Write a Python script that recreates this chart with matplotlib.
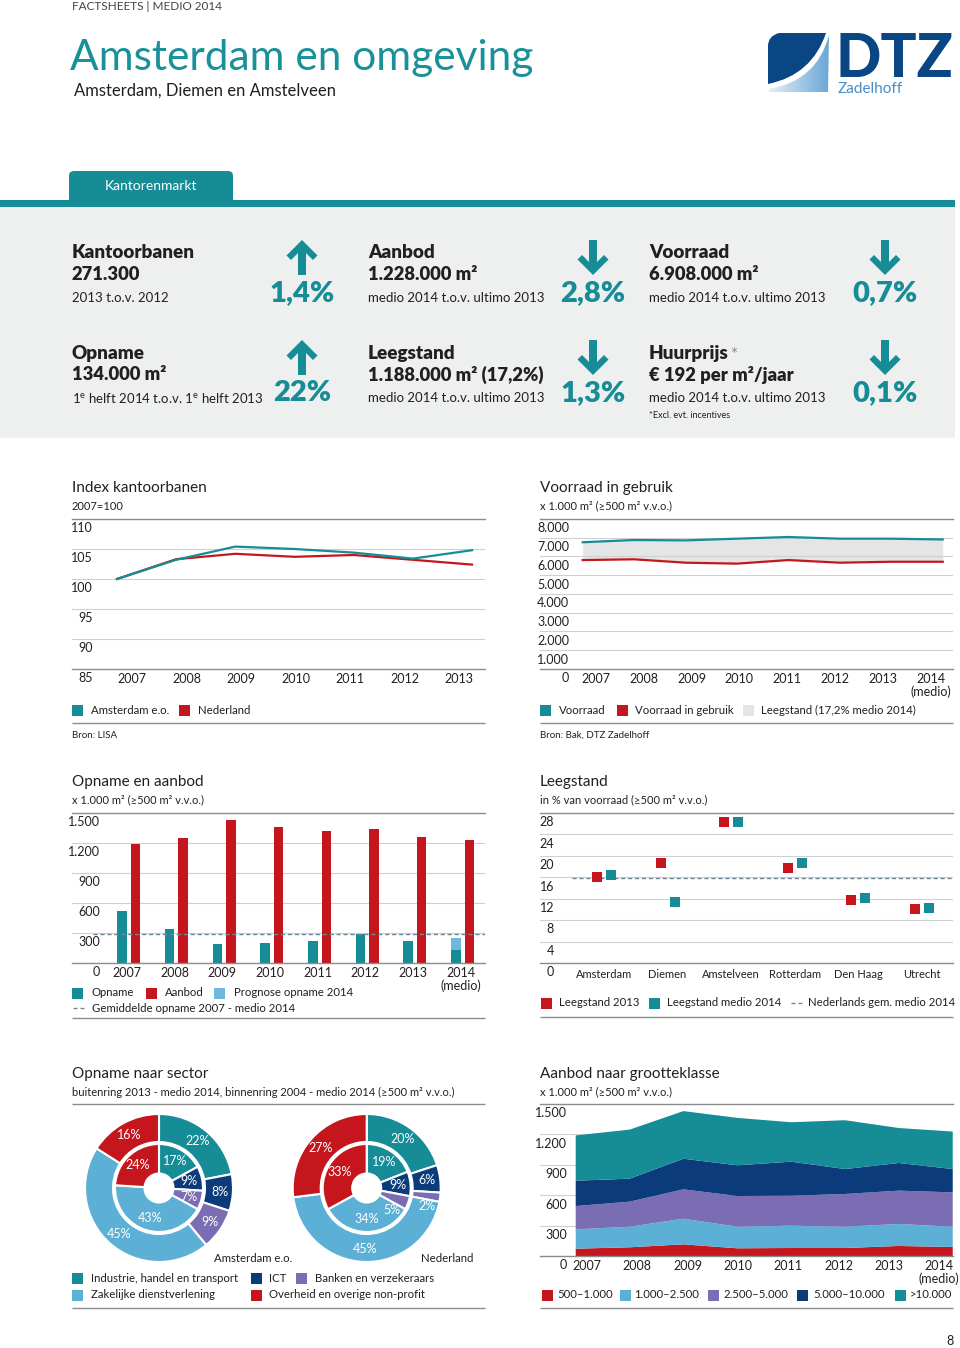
import matplotlib
matplotlib.use('Agg')
import matplotlib.pyplot as plt
import numpy as np
from matplotlib.patches import Rectangle, FancyBboxPatch, Polygon, PathPatch
from matplotlib.path import Path

plt.rcParams['font.family'] = ['Lato', 'DejaVu Sans']
plt.rcParams['mathtext.fontset'] = 'custom'
plt.rcParams['mathtext.rm'] = 'Lato'
plt.rcParams['mathtext.bf'] = 'Lato:bold'

# ---------------- data ----------------
idx_years = ['2007', '2008', '2009', '2010', '2011', '2012', '2013']
idx_amsterdam = [100.0, 103.2, 105.4, 105.0, 104.4, 103.4, 104.8]
idx_nederland = [100.0, 103.3, 104.2, 103.7, 104.0, 103.2, 102.4]
idx_yticks = [85, 90, 95, 100, 105, 110]

years8 = ['2007', '2008', '2009', '2010', '2011', '2012', '2013', '2014\n(medio)']

vr_voorraad = [6760, 6880, 6860, 6950, 7040, 6950, 6950, 6908]
vr_gebruik = [5810, 5850, 5670, 5620, 5810, 5670, 5720, 5720]
vr_yticks = [0, 1000, 2000, 3000, 4000, 5000, 6000, 7000, 8000]
vr_yticklabels = ['0', '1.000', '2.000', '3.000', '4.000', '5.000', '6.000', '7.000', '8.000']

oa_opname = [517, 340, 190, 203, 220, 287, 217, 134]
oa_prognose = [0, 0, 0, 0, 0, 0, 0, 116]
oa_aanbod = [1190, 1247, 1430, 1363, 1320, 1340, 1263, 1228]
oa_gemiddelde = 287
oa_yticks = [0, 300, 600, 900, 1200, 1500]
oa_yticklabels = ['0', '300', '600', '900', '1.200', '1.500']

ls_cities = ['Amsterdam', 'Diemen', 'Amstelveen', 'Rotterdam', 'Den Haag', 'Utrecht']
ls_2013 = [16.0, 18.6, 26.4, 17.7, 11.8, 10.1]
ls_2014 = [16.4, 11.3, 26.3, 18.7, 12.1, 10.3]
ls_nl_gem = 15.9
ls_yticks = [0, 4, 8, 12, 16, 20, 24, 28]

sector_names = ['Industrie, handel en transport', 'ICT', 'Banken en verzekeraars',
                'Zakelijke dienstverlening', 'Overheid en overige non-profit']
ams_buiten = [22, 8, 9, 45, 16]
ams_binnen = [17, 9, 7, 43, 24]
nl_buiten = [20, 6, 2, 45, 27]
nl_binnen = [19, 9, 5, 34, 33]

ag_classes = ['500\u20131.000', '1.000\u20132.500', '2.500\u20135.000', '5.000\u201310.000', '>10.000']
ag_500_1000 = [72, 86, 115, 76, 79, 79, 99, 89]
ag_1000_2500 = [191, 203, 253, 213, 220, 210, 217, 200]
ag_2500_5000 = [230, 247, 290, 303, 296, 323, 329, 339]
ag_5000_10000 = [250, 227, 302, 303, 336, 246, 273, 230]
ag_10000_plus = [447, 484, 470, 468, 389, 482, 345, 370]
ag_yticks = [0, 300, 600, 900, 1200, 1500]
ag_yticklabels = ['0', '300', '600', '900', '1.200', '1.500']

# ---------------- style ----------------
TEAL = '#168c96'
TITLE_TEAL = '#1a9199'
RED = '#c5161d'
NAVY = '#0b3b7a'
PURPLE = '#7a6db3'
LBLUE = '#5cb0d6'
PROG = '#6db8dc'
GREY_FILL = '#e4e5e6'
PANEL = '#eef0f0'
GRID = '#d0d0d0'
AXLINE = '#8c8c8c'
TXT = '#231f20'
DASH = '#6f8797'
LEG = 8.2
sector_colors = [TEAL, NAVY, PURPLE, LBLUE, RED]

W, H = 960, 1348
fig = plt.figure(figsize=(W / 100, H / 100), dpi=100)
bg = fig.add_axes([0, 0, 1, 1], zorder=0)
bg.set_xlim(0, W)
bg.set_ylim(H, 0)
bg.axis('off')


def add_ax(x0, y0, x1, y1):
    ax = fig.add_axes([x0 / W, 1 - y1 / H, (x1 - x0) / W, (y1 - y0) / H], zorder=2)
    ax.patch.set_alpha(0)
    return ax


def T(x, y, s, size=LEG, color=TXT, weight='normal', ha='left', va='center', **kw):
    return bg.text(x, y, s, fontsize=size, color=color, fontweight=weight, ha=ha, va=va, **kw)


def sq(x, y, color, s=11):
    bg.add_patch(Rectangle((x, y - s / 2), s, s, facecolor=color, lw=0))


def hline(y, x0, x1, color=AXLINE, lw=1.0):
    bg.plot([x0, x1], [y, y], color=color, lw=lw, solid_capstyle='butt')


def dash_key(x, y):
    for a in (x, x + 7):
        bg.plot([a, a + 4], [y, y], color=DASH, lw=1.0, solid_capstyle='butt')


def arrow(cx, ytip, up=True):
    pts = [(0, 0), (15.5, 15.5), (11, 20), (4, 13), (4, 35), (-4, 35), (-4, 13), (-11, 20), (-15.5, 15.5)]
    sgn = 1 if up else -1
    poly = [(cx + dx, ytip + sgn * dy) for dx, dy in pts]
    bg.add_patch(Polygon(poly, closed=True, facecolor=TEAL, lw=0))


def style_axes(ax, yticks, ylabels, ylim, right_px, axisbelow=True):
    ax.set_ylim(*ylim)
    ax.set_yticks(yticks)
    ax.grid(axis='y', color=GRID, lw=0.8)
    ax.set_axisbelow(axisbelow)
    for s in ['left', 'right']:
        ax.spines[s].set_visible(False)
    for s in ['top', 'bottom']:
        ax.spines[s].set_color(AXLINE)
        ax.spines[s].set_linewidth(1.0)
    ax.tick_params(axis='y', length=0, labelleft=False)
    ax.tick_params(axis='x', length=0, pad=3, labelsize=9, labelcolor=TXT)
    for v, s in zip(yticks, ylabels):
        ax.annotate(s, xy=(0, v), xycoords=('axes fraction', 'data'),
                    xytext=(right_px * 0.72, -2.4), textcoords='offset points',
                    ha='right', va='top', fontsize=9, color=TXT, annotation_clip=False)


# ---------------- header ----------------
T(72, 7, 'FACTSHEETS | MEDIO 2014', size=8.5, color='#444444')
T(70, 58, 'Amsterdam en omgeving', size=30.5, color=TITLE_TEAL)
T(74, 91, 'Amsterdam, Diemen en Amstelveen', size=12)

# logo
dark = Path([(779, 33), (826, 33), (812, 75), (768, 84), (768, 46), (768, 36), (779, 33), (779, 33)],
            [Path.MOVETO, Path.LINETO, Path.CURVE3, Path.CURVE3, Path.LINETO, Path.CURVE3, Path.CURVE3, Path.CLOSEPOLY])
bg.add_patch(PathPatch(dark, facecolor='#0a4584', lw=0))
light = Path([(829, 35), (828, 92), (769, 92), (769, 89), (817, 81), (829, 35), (829, 35)],
             [Path.MOVETO, Path.LINETO, Path.LINETO, Path.LINETO, Path.CURVE3, Path.CURVE3, Path.CLOSEPOLY])
lp = PathPatch(light, facecolor='none', lw=0)
bg.add_patch(lp)
grad = np.linspace(0, 1, 64)[None, :] * np.ones((64, 1))
gimg = bg.imshow(grad, cmap=matplotlib.colors.LinearSegmentedColormap.from_list('g', ['#e6f0f8', '#6aa6d6']),
                 extent=(768, 830, 93, 33), aspect='auto', zorder=1)
gimg.set_clip_path(lp)
bg.set_xlim(0, W)
bg.set_ylim(H, 0)
T(835, 77, 'DTZ', size=43, color='#0a4584', weight='black', va='baseline')
T(838, 89, 'Zadelhoff', size=11, color='#4a8cc6')

# tab + panel
bg.add_patch(FancyBboxPatch((69, 171), 164, 40, boxstyle='round,pad=0,rounding_size=5',
                            facecolor=TEAL, lw=0))
T(151, 186, 'Kantorenmarkt', size=10, color='white', ha='center')
bg.add_patch(Rectangle((0, 200), 955, 6.5, facecolor=TEAL, lw=0))
bg.add_patch(Rectangle((0, 206.5), 955, 231, facecolor=PANEL, lw=0))

# KPI blocks
cols = [72, 368, 649]
kpi_rows = [
    [('Kantoorbanen', '271.300', '2013 t.o.v. 2012', '1,4%', True),
     ('Aanbod', '1.228.000 m²', 'medio 2014 t.o.v. ultimo 2013', '2,8%', False),
     ('Voorraad', '6.908.000 m²', 'medio 2014 t.o.v. ultimo 2013', '0,7%', False)],
    [('Opname', '134.000 m²', r'1$^{\mathrm{e}}$ helft 2014 t.o.v. 1$^{\mathrm{e}}$ helft 2013', '22%', True),
     ('Leegstand', '1.188.000 m² (17,2%)', 'medio 2014 t.o.v. ultimo 2013', '1,3%', False),
     ('Huurprijs', '€ 192 per m²/jaar', 'medio 2014 t.o.v. ultimo 2013', '0,1%', False)],
]
arrow_x = [302, 593, 885]
huur_txt = None
for r, row in enumerate(kpi_rows):
    y0 = 253 + r * 100
    for c, (ttl, val, desc, pct, up) in enumerate(row):
        x = cols[c]
        t = T(x, y0, ttl, size=13.6, weight='heavy')
        if ttl == 'Huurprijs':
            huur_txt = t
        T(x, y0 + 22, val, size=13.2, weight='heavy')
        T(x, y0 + 45, desc, size=9.5)
        arrow(arrow_x[c], (y0 - 13) if up else (y0 + 22), up=up)
        T(arrow_x[c], y0 + 40, pct, size=21, weight='heavy', color=TEAL, ha='center')
renderer = fig.canvas.get_renderer()
bb = huur_txt.get_window_extent(renderer)
x_end = bg.transData.inverted().transform((bb.x1, bb.y0))[0]
T(x_end + 1, 355, '*', size=12, color='#8a8a8a')
T(649, 416, '*Excl. evt. incentives', size=6.5)

# ---------------- chart 1: Index kantoorbanen ----------------
T(72, 488, 'Index kantoorbanen', size=11)
T(72, 506, '2007=100', size=8)
ax1 = add_ax(72, 519, 485, 669)
xi = np.arange(len(idx_years))
ax1.plot(xi, idx_nederland, color=RED, lw=1.6, zorder=3)
ax1.plot(xi, idx_amsterdam, color=TEAL, lw=1.6, zorder=3)
ax1.set_xlim(-0.760, 6.219)
ax1.set_xticks(0.253 + 0.921 * xi)
ax1.set_xticklabels(idx_years)
style_axes(ax1, idx_yticks, [str(v) for v in idx_yticks], (85, 110), 21)
sq(72, 710, TEAL)
T(91, 710, 'Amsterdam e.o.')
sq(179, 710, RED)
T(198, 710, 'Nederland')
hline(723, 72, 485)
T(72, 735, 'Bron: LISA', size=7)

# ---------------- chart 2: Voorraad in gebruik ----------------
T(540, 488, 'Voorraad in gebruik', size=11)
T(540, 506, 'x 1.000 m² (≥500 m² v.v.o.)', size=8)
ax2 = add_ax(540, 519, 953, 669)
x8 = np.arange(len(years8))
ax2.fill_between(x8, vr_gebruik, vr_voorraad, color=GREY_FILL, lw=0, zorder=1)
ax2.plot(x8, vr_voorraad, color=TEAL, lw=1.6, zorder=3)
ax2.plot(x8, vr_gebruik, color=RED, lw=1.6, zorder=3)
ax2.set_xlim(-0.830, 7.200)
ax2.set_xticks(0.253 + 0.9306 * x8)
ax2.set_xticklabels(years8, linespacing=1.0)
style_axes(ax2, vr_yticks, vr_yticklabels, (0, 8000), 29, axisbelow='line')
sq(540, 710, TEAL)
T(559, 710, 'Voorraad')
sq(617, 710, RED)
T(635, 710, 'Voorraad in gebruik')
sq(743, 710, GREY_FILL)
T(761, 710, 'Leegstand (17,2% medio 2014)')
hline(723, 540, 953)
T(540, 735, 'Bron: Bak, DTZ Zadelhoff', size=7)

# ---------------- chart 3: Opname en aanbod ----------------
T(72, 782, 'Opname en aanbod', size=11)
T(72, 800, 'x 1.000 m² (≥500 m² v.v.o.)', size=8)
ax3 = add_ax(72, 813, 485, 963)
bw = 0.2
ax3.bar(x8 - 0.1415, oa_opname, bw, color=TEAL, lw=0)
ax3.bar(x8 - 0.1415, oa_prognose, bw, bottom=oa_opname, color=PROG, lw=0)
ax3.bar(x8 + 0.1415, oa_aanbod, bw, color=RED, lw=0)
ax3.axhline(oa_gemiddelde, xmin=(93 - 72) / 413, xmax=1, color=DASH, lw=1.0, ls=(0, (3, 2)), zorder=3)
ax3.set_xlim(-1.19, 7.469)
ax3.set_xticks(x8 - 0.04)
ax3.set_xticklabels(years8, linespacing=1.0)
style_axes(ax3, oa_yticks, oa_yticklabels, (0, 1500), 28)
sq(72, 993, TEAL)
T(92, 993, 'Opname')
sq(146, 993, RED)
T(165, 993, 'Aanbod')
sq(214, 993, PROG)
T(234, 993, 'Prognose opname 2014')
dash_key(73, 1008)
T(92, 1008, 'Gemiddelde opname 2007 - medio 2014')
hline(1018, 72, 485)

# ---------------- chart 4: Leegstand ----------------
T(540, 782, 'Leegstand', size=11)
T(540, 800, 'in % van voorraad (≥500 m² v.v.o.)', size=8)
ax4 = add_ax(540, 813, 953, 963)
xc = np.arange(len(ls_cities))
ax4.plot(xc - 0.11, ls_2013, 's', color=RED, ms=7.7, mew=0, zorder=4)
ax4.plot(xc + 0.11, ls_2014, 's', color=TEAL, ms=7.7, mew=0, zorder=4)
ax4.axhline(ls_nl_gem, xmin=(572 - 540) / 413, xmax=1, color=DASH, lw=1.0, ls=(0, (3, 2)), zorder=3)
ax4.set_xlim(-1.006, 5.487)
ax4.set_xticks(xc)
ax4.set_xticklabels(ls_cities)
style_axes(ax4, ls_yticks, [str(v) for v in ls_yticks], (0, 28), 14)
ax4.tick_params(axis='x', labelsize=8, pad=4)
sq(541, 1003, RED)
T(559, 1003, 'Leegstand 2013')
sq(649, 1003, TEAL)
T(667, 1003, 'Leegstand medio 2014')
dash_key(791, 1003)
T(808, 1003, 'Nederlands gem. medio 2014')
hline(1017, 540, 953)

# ---------------- chart 5: Opname naar sector ----------------
T(72, 1074, 'Opname naar sector', size=11)
T(72, 1092, 'buitenring 2013 - medio 2014, binnenring 2004 - medio 2014 (≥500 m² v.v.o.)', size=8)
hline(1104, 72, 485)
ax5 = add_ax(72, 1106, 485, 1272)
pct = lambda p: f'{p:.0f}%'
pie_sets = [(159, ams_buiten, ams_binnen), (366.7, nl_buiten, nl_binnen)]
label_fix = {(1, 'buiten', 2): (426.7, 1205.5), (1, 'binnen', 2): (392, 1210.5)}
for k, (cx, buiten, binnen) in enumerate(pie_sets):
    for ring, vals, rad, wid, pd in [('buiten', buiten, 74, 28, 61 / 74), ('binnen', binnen, 44, 29.5, 31 / 44)]:
        wedges, _, autot = ax5.pie(vals, radius=rad, center=(cx, H - 1188), startangle=90, counterclock=False,
                                   colors=sector_colors,
                                   wedgeprops=dict(width=wid, edgecolor='white', linewidth=1.5),
                                   autopct=pct, pctdistance=pd,
                                   textprops=dict(color='white', fontsize=9))
        for j, at in enumerate(autot):
            if (k, ring, j) in label_fix:
                px, py = label_fix[(k, ring, j)]
                at.set_position((px, H - py))
ax5.set_xlim(72, 485)
ax5.set_ylim(H - 1272, H - 1106)
ax5.set_aspect('auto')
ax5.axis('off')
T(292, 1258, 'Amsterdam e.o.', ha='right')
T(473, 1258, 'Nederland', ha='right')
sx = [(72, 91), (251, 269), (296, 315), (72, 91), (251, 269)]
sy = [1278, 1278, 1278, 1295, 1295]
for (qx, tx), yy, name, col in zip(sx, sy, sector_names, sector_colors):
    sq(qx, yy, col)
    T(tx, yy, name)
hline(1308, 72, 485)

# ---------------- chart 6: Aanbod naar grootteklasse ----------------
T(540, 1074, 'Aanbod naar grootteklasse', size=11)
T(540, 1092, 'x 1.000 m² (≥500 m² v.v.o.)', size=8)
ax6 = add_ax(540, 1104, 953, 1256)
ag_colors = [RED, LBLUE, PURPLE, NAVY, TEAL]
ax6.stackplot(x8, ag_500_1000, ag_1000_2500, ag_2500_5000, ag_5000_10000, ag_10000_plus,
              colors=ag_colors, lw=0)
ax6.set_xlim(-0.663, 7.005)
ax6.set_xticks(0.204 + 0.935 * x8)
ax6.set_xticklabels(years8, linespacing=1.0)
style_axes(ax6, ag_yticks, ag_yticklabels, (0, 1500), 27)
lx = [(542, 557), (620, 634), (708, 723), (797, 813), (895, 910)]
for (qx, tx), name, col in zip(lx, ag_classes, ag_colors):
    sq(qx, 1295, col)
    T(tx, 1295, name)
hline(1308, 540, 953)

T(950, 1341, '8', size=9, ha='center')

fig.savefig('out.png', dpi=100)
